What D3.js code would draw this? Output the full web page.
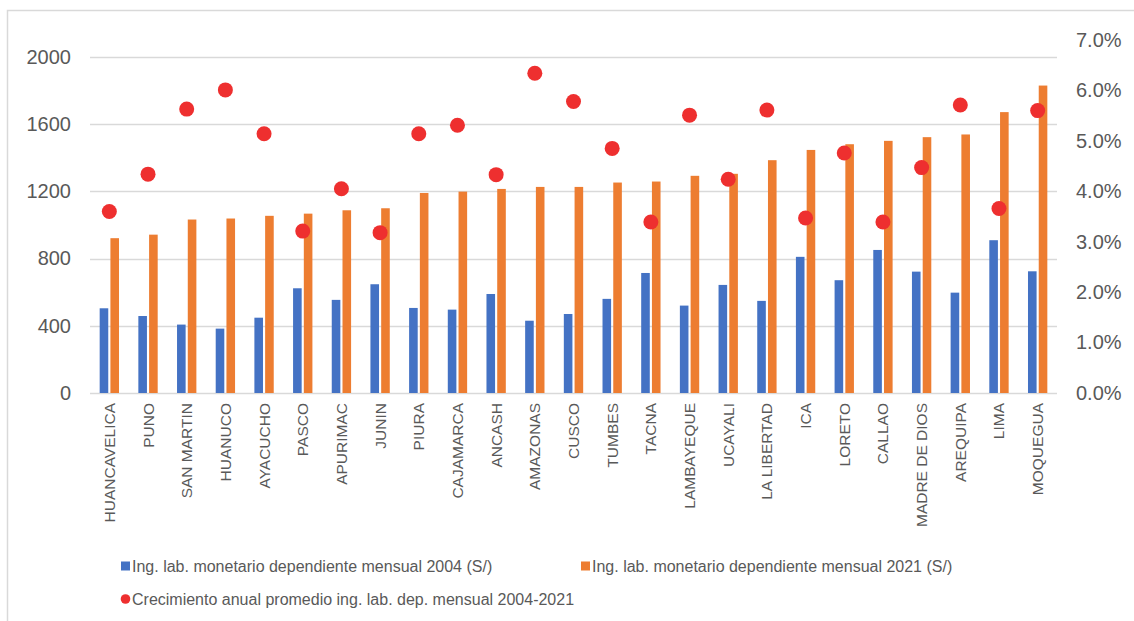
<!DOCTYPE html>
<html>
<head>
<meta charset="utf-8">
<script src="https://cdn.jsdelivr.net/npm/d3@7"></script>
<style>
  body { margin: 0; background: #fff; }
  text { font-family: Arial, "Liberation Sans", sans-serif; fill: #595959; }
</style>
</head>
<body>
<div id="chart"></div>
<script>
// data
const regions = ['HUANCAVELICA', 'PUNO', 'SAN MARTIN', 'HUANUCO', 'AYACUCHO', 'PASCO', 'APURIMAC',
    'JUNIN', 'PIURA', 'CAJAMARCA', 'ANCASH', 'AMAZONAS', 'CUSCO', 'TUMBES', 'TACNA', 'LAMBAYEQUE',
    'UCAYALI', 'LA LIBERTAD', 'ICA', 'LORETO', 'CALLAO', 'MADRE DE DIOS', 'AREQUIPA', 'LIMA', 'MOQUEGUA'];
const ingreso2004 = [504, 458, 407, 383, 448, 623, 554, 647, 506, 496, 589, 430, 470, 560, 714, 520,
    643, 548, 810, 671, 851, 722, 597, 909, 724];
const ingreso2021 = [921, 942, 1032, 1038, 1054, 1067, 1087, 1099, 1190, 1198, 1214, 1226, 1226, 1252,
    1258, 1292, 1304, 1385, 1446, 1480, 1500, 1522, 1538, 1671, 1829];
const crecimiento = [3.60, 4.34, 5.63, 6.01, 5.14, 3.21, 4.05, 3.18, 5.14, 5.31, 4.33, 6.34, 5.78, 4.85,
    3.39, 5.51, 4.24, 5.61, 3.47, 4.76, 3.39, 4.47, 5.71, 3.66, 5.60];
const leftTicks = [0, 400, 800, 1200, 1600, 2000];
const rightTicks = [0, 1, 2, 3, 4, 5, 6, 7];
const seriesNames = ['Ing. lab. monetario dependiente mensual 2004 (S/)',
    'Ing. lab. monetario dependiente mensual 2021 (S/)',
    'Crecimiento anual promedio ing. lab. dep. mensual 2004-2021'];
const colors = ['#4472C4', '#ED7D31', '#EE2F2F'];

const W = 1134, H = 621;
const plot = {left: 90, right: 1057, top: 40, bottom: 393};

const svg = d3.select('#chart')
    .append('svg')
    .attr('width', W)
    .attr('height', H);

// outer frame
svg.append('rect')
    .attr('x', 7.5).attr('y', 10.5)
    .attr('width', W).attr('height', H)
    .attr('fill', 'none')
    .attr('stroke', '#d9d9d9')
    .attr('stroke-width', 1.5);

const x0 = d3.scaleBand()
    .domain(regions)
    .range([plot.left, plot.right])
    .paddingInner(0.5)
    .paddingOuter(0.25);

const x1 = d3.scaleBand()
    .domain([0, 1])
    .range([0, x0.bandwidth()])
    .paddingInner(0.2);

const yLeft = d3.scaleLinear().domain([0, 2100]).range([plot.bottom, plot.top]);
const yRight = d3.scaleLinear().domain([0, 7]).range([plot.bottom, plot.top]);

// gridlines
svg.append('g')
    .selectAll('line')
    .data(leftTicks)
    .join('line')
    .attr('x1', plot.left).attr('x2', plot.right)
    .attr('y1', d => Math.round(yLeft(d)) + 0.5)
    .attr('y2', d => Math.round(yLeft(d)) + 0.5)
    .attr('stroke', '#d9d9d9')
    .attr('stroke-width', 1.5);

// left axis
const leftAxis = svg.append('g')
    .attr('transform', 'translate(' + plot.left + ',0)')
    .call(d3.axisLeft(yLeft).tickValues(leftTicks).tickSize(0).tickPadding(19)
        .tickFormat(d3.format('d')));
leftAxis.select('.domain').remove();
leftAxis.selectAll('text').style('font-size', '20px').style('fill', '#595959');

// right axis
const rightAxis = svg.append('g')
    .attr('transform', 'translate(' + plot.right + ',0)')
    .call(d3.axisRight(yRight).tickValues(rightTicks).tickSize(0).tickPadding(19)
        .tickFormat(d => d.toFixed(1) + '%'));
rightAxis.select('.domain').remove();
rightAxis.selectAll('text').style('font-size', '20px').style('fill', '#595959');

// bars
const groups = svg.append('g')
    .selectAll('g')
    .data(regions)
    .join('g')
    .attr('transform', d => 'translate(' + x0(d) + ',0)');

groups.selectAll('rect')
    .data((d, i) => [ingreso2004[i], ingreso2021[i]])
    .join('rect')
    .attr('x', (d, j) => x1(j))
    .attr('width', x1.bandwidth())
    .attr('y', d => yLeft(d))
    .attr('height', d => yLeft(0) - yLeft(d))
    .attr('fill', (d, j) => colors[j]);

// growth dots
svg.append('g')
    .selectAll('circle')
    .data(crecimiento)
    .join('circle')
    .attr('cx', (d, i) => x0(regions[i]) + x0.bandwidth() / 2)
    .attr('cy', d => yRight(d))
    .attr('r', 7.5)
    .attr('fill', colors[2]);

// category labels
svg.append('g')
    .selectAll('text')
    .data(regions)
    .join('text')
    .attr('transform', d => 'translate(' + (x0(d) + x0.bandwidth() / 2 + 5.5) + ',403) rotate(-90)')
    .attr('text-anchor', 'end')
    .style('font-size', '15.5px')
    .text(d => d);

// legend
const legendItems = [
    {x: 121, y: 566, i: 0},
    {x: 581, y: 566, i: 1},
    {x: 121, y: 599, i: 2}
];
const legend = svg.append('g')
    .selectAll('g')
    .data(legendItems)
    .join('g')
    .attr('transform', d => 'translate(' + d.x + ',' + d.y + ')');

legend.each(function(d) {
    const g = d3.select(this);
    if (d.i < 2) {
        g.append('rect')
            .attr('x', 0).attr('y', -4.5)
            .attr('width', 9).attr('height', 9)
            .attr('fill', colors[d.i]);
    } else {
        g.append('circle')
            .attr('cx', 4.5).attr('cy', 0)
            .attr('r', 4.8)
            .attr('fill', colors[d.i]);
    }
    g.append('text')
        .attr('x', 11)
        .attr('dy', '0.35em')
        .style('font-size', '16px')
        .text(seriesNames[d.i]);
});
</script>
</body>
</html>
